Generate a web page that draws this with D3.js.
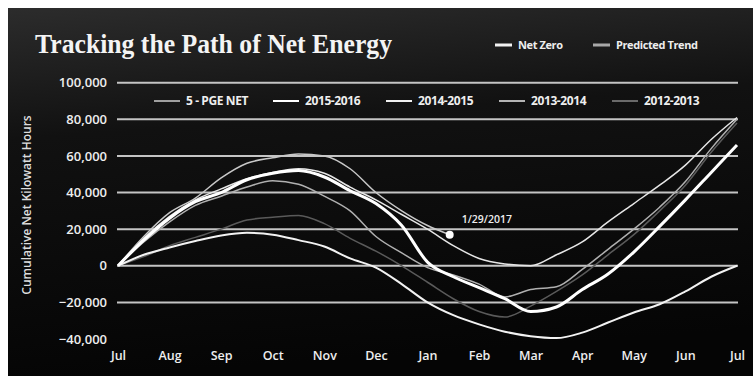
<!DOCTYPE html>
<html>
<head>
<meta charset="utf-8">
<script src="https://cdn.jsdelivr.net/npm/d3@7"></script>
<style>
    body { margin: 0; background: #fff; }
    svg { display: block; }
</style>
</head>
<body>
<div id="chart"></div>
<script>
// months on the x axis (0 = Jul 1)
var monthLabels = ["Jul", "Aug", "Sep", "Oct", "Nov", "Dec", "Jan", "Feb", "Mar", "Apr", "May", "Jun", "Jul"];
var monthTicks = [0, 1, 2, 3, 4, 5, 6, 7, 8, 9, 10, 11, 12];
var yTicks = [-40000, -20000, 0, 20000, 40000, 60000, 80000, 100000];

// half-month sample points
var halfMonths = [0, 0.5, 1, 1.5, 2, 2.5, 3, 3.5, 4, 4.5, 5, 5.5, 6, 6.5, 7, 7.5, 8, 8.5, 9, 9.5, 10, 10.5, 11, 11.5, 12];
var pgeMonths = [0, 0.5, 1, 1.5, 2, 2.5, 3, 3.5, 4, 4.5, 5, 5.5, 6, 6.43];

// cumulative net kWh
var pgeNet = [0, 16000, 29000, 37000, 48000, 56000, 59000, 61000, 60000, 53000, 40000, 30000, 22000, 17000];
var y2015 = [0, 14000, 26000, 35000, 40000, 47000, 50500, 52000, 48500, 41000, 34000, 22000, 2000, -6000, -12000, -18000, -25000, -22500, -13000, -4500, 7500, 21500, 36000, 51000, 66000];
var y2014 = [0, 15000, 27000, 36000, 42000, 47500, 51000, 53000, 50500, 43000, 36000, 28000, 20000, 11000, 4000, 1000, 0, 6000, 13000, 24000, 34000, 44000, 55000, 69000, 81000];
var y2013 = [0, 13000, 24000, 33000, 38000, 43000, 46500, 44500, 38000, 30000, 16000, 7000, -1000, -5000, -10000, -17000, -13000, -11500, -2000, 9000, 20000, 32000, 46000, 64000, 80000];
var y2012 = [0, 5000, 11000, 15500, 20000, 25000, 26500, 27500, 23000, 15000, 8000, 0, -9000, -18000, -25000, -28000, -22000, -14000, -5000, 6000, 17000, 30000, 44000, 62000, 78000];
var netZero = [0, 6000, 10000, 13500, 16500, 18000, 17000, 14000, 10500, 4000, -1000, -10000, -20000, -27000, -32000, -36000, -38500, -39500, -36500, -31000, -25500, -21000, -14000, -6000, 0];

var lastLabel = "1/29/2017";

var width = 753, height = 376;

var svg = d3.select("#chart").append("svg")
    .attr("width", width)
    .attr("height", height);

// photo background: dark slide with a little glare at the top
var defs = svg.append("defs");
var grad = defs.append("linearGradient")
    .attr("id", "bg")
    .attr("x1", 0).attr("y1", 0).attr("x2", 0.15).attr("y2", 1);
grad.append("stop").attr("offset", "0%").attr("stop-color", "#2c2c2c");
grad.append("stop").attr("offset", "35%").attr("stop-color", "#111");
grad.append("stop").attr("offset", "100%").attr("stop-color", "#050505");

svg.append("rect")
    .attr("x", 8).attr("y", 8)
    .attr("width", width - 8).attr("height", height - 8)
    .attr("fill", "url(#bg)");

var x = d3.scaleLinear().domain([0, 12]).range([118, 737]);
var y = d3.scaleLinear().domain([-40000, 100000]).range([339, 82.7]);

var g = svg.append("g");

// gridlines (none at the bottom value)
g.selectAll(".grid")
    .data(yTicks.filter(function (d) { return d > -40000; }))
    .enter().append("line")
    .attr("class", "grid")
    .attr("x1", 117).attr("x2", 738)
    .attr("y1", function (d) { return y(d); })
    .attr("y2", function (d) { return y(d); })
    .attr("stroke", "#c4c4c4")
    .attr("stroke-width", 2);

var yAxis = g.append("g")
    .attr("transform", "translate(107,0)")
    .call(d3.axisLeft(y).tickValues(yTicks).tickSize(0).tickPadding(0).tickFormat(d3.format(",")));
yAxis.select(".domain").remove();
yAxis.selectAll("text")
    .attr("fill", "#eee")
    .attr("font-family", "'Open Sans', sans-serif")
    .attr("font-weight", 600)
    .attr("font-size", 13);

var xAxis = g.append("g")
    .attr("transform", "translate(0,345)")
    .call(d3.axisBottom(x).tickValues(monthTicks).tickSize(0).tickPadding(6)
        .tickFormat(function (d, i) { return monthLabels[i]; }));
xAxis.select(".domain").remove();
xAxis.selectAll("text")
    .attr("fill", "#eee")
    .attr("font-family", "'Open Sans', sans-serif")
    .attr("font-weight", 600)
    .attr("font-size", 12.5);

svg.append("text")
    .attr("transform", "translate(31,205) rotate(-90)")
    .attr("text-anchor", "middle")
    .attr("fill", "#ddd")
    .attr("font-family", "'Open Sans', sans-serif")
    .attr("font-weight", 600)
    .attr("font-size", 12)
    .text("Cumulative Net Kilowatt Hours");

var line = d3.line()
    .x(function (d) { return x(d[0]); })
    .y(function (d) { return y(d[1]); })
    .curve(d3.curveMonotoneX);

function pairs(ts, vs) {
    return vs.map(function (v, i) { return [ts[i], v]; });
}

var series = [
    { name: "2012-2013", values: pairs(halfMonths, y2012), color: "#5a5a5a", w: 1.5 },
    { name: "2013-2014", values: pairs(halfMonths, y2013), color: "#b0b0b0", w: 1.5 },
    { name: "Net Zero", values: pairs(halfMonths, netZero), color: "#f2f2f2", w: 2 },
    { name: "2014-2015", values: pairs(halfMonths, y2014), color: "#e6e6e6", w: 1.5 },
    { name: "5 - PGE NET", values: pairs(pgeMonths, pgeNet), color: "#c8c8c8", w: 1.5 },
    { name: "2015-2016", values: pairs(halfMonths, y2015), color: "#ffffff", w: 3 }
];

g.selectAll(".series")
    .data(series)
    .enter().append("path")
    .attr("class", "series")
    .attr("fill", "none")
    .attr("stroke", function (d) { return d.color; })
    .attr("stroke-width", function (d) { return d.w; })
    .attr("stroke-linejoin", "round")
    .attr("d", function (d) { return line(d.values); });

// end of the current year
var last = [pgeMonths[pgeMonths.length - 1], pgeNet[pgeNet.length - 1]];
g.append("circle")
    .attr("cx", x(last[0]))
    .attr("cy", y(last[1]))
    .attr("r", 4)
    .attr("fill", "#fff");
g.append("text")
    .attr("x", x(last[0]) + 12)
    .attr("y", y(last[1]) - 12)
    .attr("fill", "#eee")
    .attr("font-family", "'Open Sans', sans-serif")
    .attr("font-weight", 600)
    .attr("font-size", 10.5)
    .text(lastLabel);

// title
svg.append("text")
    .attr("x", 35)
    .attr("y", 53)
    .attr("fill", "#f4f4f4")
    .attr("font-family", "'Liberation Serif', 'DejaVu Serif', serif")
    .attr("font-weight", "bold")
    .attr("font-size", 27)
    .attr("textLength", 357)
    .attr("lengthAdjust", "spacingAndGlyphs")
    .text("Tracking the Path of Net Energy");

// legends
var topLegend = [
    { name: "Net Zero", color: "#f2f2f2", x: 495 },
    { name: "Predicted Trend", color: "#a8a8a8", x: 593 }
];
var rowLegend = [
    { name: "5 - PGE NET", color: "#a0a0a0", x: 154 },
    { name: "2015-2016", color: "#ffffff", x: 273 },
    { name: "2014-2015", color: "#f0f0f0", x: 386 },
    { name: "2013-2014", color: "#b4b4b4", x: 499 },
    { name: "2012-2013", color: "#6a6a6a", x: 612 }
];

function drawLegend(items, yPos, lineLen, lineW, size) {
    var lg = svg.append("g").selectAll("g")
        .data(items)
        .enter().append("g")
        .attr("transform", function (d) { return "translate(" + d.x + "," + yPos + ")"; });
    lg.append("line")
        .attr("x1", 0).attr("x2", lineLen)
        .attr("stroke", function (d) { return d.color; })
        .attr("stroke-width", lineW);
    lg.append("text")
        .attr("x", lineLen + 6)
        .attr("dy", "0.35em")
        .attr("fill", "#eee")
        .attr("font-family", "'Open Sans', sans-serif")
        .attr("font-weight", 700)
        .attr("font-size", size)
        .attr("letter-spacing", -0.4)
        .text(function (d) { return d.name; });
}

drawLegend(topLegend, 45, 17, 3, 11);
drawLegend(rowLegend, 101, 26, 2, 12);
</script>
</body>
</html>
